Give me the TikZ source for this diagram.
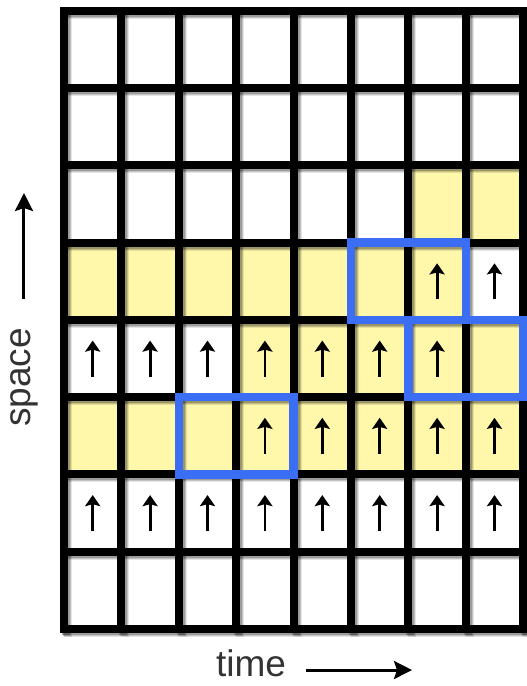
\documentclass[tikz,border=0pt]{standalone}
\usepackage{fontspec}
\setmainfont{Liberation Sans}
\usetikzlibrary{arrows.meta}
\definecolor{Straw}{HTML}{FFF8AA}
\definecolor{Azure}{HTML}{3B6EF2}

\begin{document}
\begin{tikzpicture}[x=57.4pt,y=77.25pt,
    cell/.style={inner sep=0pt,outer sep=0pt,minimum width=57.4pt,minimum height=77.25pt},
    bar/.style={line width=8pt,line cap=rect},
    up/.style={-{Stealth[length=11pt,width=15pt,inset=2pt]},line width=2.8pt},
    box/.style={draw=Azure,line width=8.5pt},
    lbl/.style={font=\fontsize{37}{40}\selectfont,text=black!80,inner sep=0pt},
    a/.style={-{Stealth[length=18pt,width=18pt,inset=3pt]},line width=3pt,draw=black}]
    \useasboundingbox (-64pt,-57pt) rectangle (463pt,629pt);
    % cells
    \foreach \j in {0,...,7}
      \foreach \i in {0,...,7}
        \node[cell] (c-\i-\j) at (\i+.5,\j+.5) {};
    \foreach \j/\row in {5/{6,7},4/{0,...,6},3/{3,...,7},2/{0,...,7}}
      \foreach \i in \row
        \fill[Straw] (c-\i-\j.south west) rectangle (c-\i-\j.north east);
    % grid with shadow
    \foreach \s/\o in {4/.10,3/.15,2/.2}
      \foreach \k in {0,...,8} {
        \draw[bar,black,opacity=\o,shift={(\s pt,-\s pt)}] (\k,0) -- (\k,8);
        \draw[bar,black,opacity=\o,shift={(\s pt,-\s pt)}] (0,\k) -- (8,\k);
      }
    \foreach \k in {0,...,8} {
      \draw[bar] (\k,0) -- (\k,8);
      \draw[bar] (0,\k) -- (8,\k);
    }
    % arrows
    \foreach \j/\row in {4/{6,7},3/{0,...,6},2/{3,...,7},1/{0,...,7}}
      \foreach \i in \row {
        \draw[up,black,opacity=.2,shift={(3pt,-3pt)}] ([yshift=-18pt]c-\i-\j.center) -- ([yshift=18pt]c-\i-\j.center);
        \draw[up] ([yshift=-18pt]c-\i-\j.center) -- ([yshift=18pt]c-\i-\j.center);
      }
    % blue frames
    \foreach \a/\b in {5-4/6-4,6-3/7-3,2-2/3-2}
      \draw[box] (c-\a.south west) rectangle (c-\b.north east);
    % labels
    \node[lbl,rotate=90] (space) at (-0.697,3.256) {space};
    \coordinate (spacetip) at (-0.71,5.644);
    \draw[a] ([yshift=29pt]space.east) -- (space.east |- spacetip);
    \node[lbl,anchor=base] (time) at (3.258,-0.621) {time};
    \coordinate (timetip) at (6.063,-0.531);
    \draw[a] ([xshift=20pt]time.east |- timetip) -- (timetip);
  \end{tikzpicture}
\end{document}
